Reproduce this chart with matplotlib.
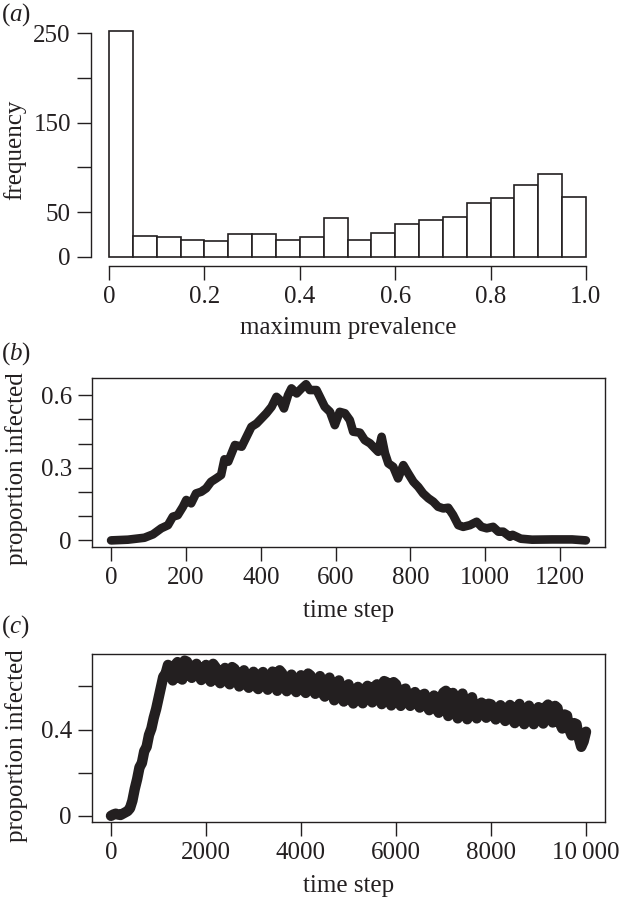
import numpy as np
import matplotlib
matplotlib.use("Agg")
import matplotlib.pyplot as plt

plt.rcParams['font.family'] = ['Liberation Serif', 'DejaVu Serif']
plt.rcParams['mathtext.fontset'] = 'custom'
plt.rcParams['mathtext.rm'] = 'Liberation Serif'
plt.rcParams['mathtext.it'] = 'Liberation Serif:italic'

ink = '#231f20'

# (a) histogram of maximum prevalence (bins of width 0.05)
bin_left = [0.00, 0.05, 0.10, 0.15, 0.20, 0.25, 0.30, 0.35, 0.40, 0.45,
            0.50, 0.55, 0.60, 0.65, 0.70, 0.75, 0.80, 0.85, 0.90, 0.95]
counts = [253, 23, 22, 19, 17, 25, 25, 19, 22, 43,
          19, 27, 37, 41, 44, 60, 66, 80, 92, 67]

# (b) one epidemic that dies out
step_b = [0, 45, 89, 112, 134, 152, 165, 178, 192, 201, 214, 227, 241, 254, 267,
          281, 294, 303, 313, 331, 349, 362, 375, 389, 402, 415, 429, 442, 451,
          462, 473, 482, 496, 509, 521, 531, 549, 558, 571, 585, 598, 611, 625,
          638, 647, 665, 678, 692, 705, 714, 723, 732, 741, 754, 767, 781, 794,
          808, 821, 834, 848, 861, 874, 888, 901, 914, 928, 941, 959, 977, 990,
          1004, 1021, 1035, 1048, 1066, 1073, 1095, 1125, 1179, 1232, 1269]
infected_b = [0.0, 0.003, 0.011, 0.025, 0.05, 0.063, 0.098, 0.104, 0.139, 0.167,
              0.153, 0.194, 0.201, 0.215, 0.242, 0.256, 0.27, 0.335, 0.325, 0.394,
              0.387, 0.428, 0.469, 0.483, 0.504, 0.525, 0.552, 0.593, 0.58, 0.545,
              0.60, 0.628, 0.607, 0.628, 0.645, 0.621, 0.621, 0.593, 0.552, 0.531,
              0.476, 0.531, 0.525, 0.497, 0.449, 0.445, 0.414, 0.401, 0.38, 0.366,
              0.428, 0.36, 0.318, 0.304, 0.256, 0.311, 0.277, 0.242, 0.221, 0.194,
              0.174, 0.16, 0.139, 0.132, 0.135, 0.105, 0.063, 0.056, 0.063, 0.077,
              0.056, 0.05, 0.056, 0.036, 0.036, 0.015, 0.023, 0.007, 0.003, 0.004,
              0.004, 0.0]

# (c) endemic run, read every 50 time steps
step_c = list(range(0, 10001, 50))
infected_c = [
    0.0, 0.006, 0.01, 0.006, 0.004, 0.01, 0.016, 0.022, 0.035, 0.07,
    0.125, 0.17, 0.225, 0.245, 0.30, 0.32, 0.375, 0.405, 0.455, 0.495,
    0.545, 0.595, 0.645, 0.66, 0.70, 0.66, 0.628, 0.70, 0.713, 0.64,
    0.632, 0.72, 0.715, 0.66, 0.64, 0.695, 0.705, 0.65, 0.63, 0.675,
    0.70, 0.64, 0.622, 0.705, 0.69, 0.63, 0.615, 0.67, 0.686, 0.625,
    0.61, 0.69, 0.682, 0.64, 0.60, 0.66, 0.675, 0.61, 0.594, 0.65,
    0.668, 0.60, 0.588, 0.655, 0.667, 0.62, 0.585, 0.64, 0.669, 0.63,
    0.58, 0.675, 0.662, 0.60, 0.578, 0.64, 0.655, 0.59, 0.574, 0.63,
    0.652, 0.585, 0.57, 0.66, 0.651, 0.60, 0.566, 0.62, 0.648, 0.57,
    0.553, 0.63, 0.641, 0.58, 0.536, 0.60, 0.628, 0.55, 0.53, 0.60,
    0.61, 0.545, 0.521, 0.585, 0.598, 0.54, 0.522, 0.59, 0.603, 0.55,
    0.526, 0.60, 0.61, 0.55, 0.518, 0.625, 0.62, 0.54, 0.512, 0.62,
    0.61, 0.55, 0.51, 0.585, 0.59, 0.53, 0.51, 0.565, 0.574, 0.52,
    0.502, 0.56, 0.566, 0.51, 0.49, 0.545, 0.558, 0.50, 0.478, 0.55,
    0.572, 0.58, 0.463, 0.53, 0.57, 0.50, 0.452, 0.545, 0.567, 0.49,
    0.448, 0.53, 0.55, 0.48, 0.452, 0.51, 0.525, 0.47, 0.455, 0.52,
    0.517, 0.465, 0.447, 0.50, 0.513, 0.46, 0.44, 0.50, 0.514, 0.45,
    0.43, 0.495, 0.519, 0.46, 0.425, 0.49, 0.511, 0.45, 0.425, 0.48,
    0.504, 0.45, 0.428, 0.505, 0.516, 0.46, 0.433, 0.51, 0.50, 0.43,
    0.405, 0.47, 0.465, 0.40, 0.373, 0.43, 0.425, 0.36, 0.32, 0.345,
    0.39]

W, H = 619, 898
fig = plt.figure(figsize=(W / 100, H / 100), dpi=100)
fs = 18

def box(left, top, right, bottom):
    return [left / W, 1 - bottom / H, (right - left) / W, (bottom - top) / H]

def style(ax):
    ax.tick_params(direction='out', length=10, width=1, labelsize=fs, pad=4.5,
                   color=ink, labelcolor=ink)
    for s in ax.spines.values():
        s.set_color(ink)
        s.set_linewidth(1)

# panel a
ax1 = fig.add_axes(box(91, 21.7, 605, 265.7))
ax1.bar(bin_left, counts, width=0.05, align='edge', color='white',
        edgecolor=ink, linewidth=1.2)
ax1.set_xlim(-0.038, 1.04)
ax1.set_ylim(-10.1, 263)
ax1.spines['top'].set_visible(False)
ax1.spines['right'].set_visible(False)
ax1.spines['left'].set_bounds(0, 250)
ax1.spines['bottom'].set_bounds(0, 1)
ax1.set_xticks([0, 0.2, 0.4, 0.6, 0.8, 1.0])
ax1.set_xticklabels(['0', '0.2', '0.4', '0.6', '0.8', '1.0'])
ax1.set_yticks([0, 50, 100, 150, 200, 250])
ax1.set_yticklabels(['0', '50', '', '150', '', '250'])
style(ax1)

# panel b
ax2 = fig.add_axes(box(92, 377.7, 605, 546.7))
ax2.plot(step_b, infected_b, color=ink, lw=6.2, solid_joinstyle='round',
         solid_capstyle='round')
ax2.set_xlim(-51, 1320)
ax2.set_ylim(-0.026, 0.672)
ax2.set_xticks([0, 200, 400, 600, 800, 1000, 1200])
ax2.set_xticklabels(['0', '200', '400', '600', '800', '1000', '1200'])
ax2.set_yticks([0, 0.1, 0.2, 0.3, 0.4, 0.5, 0.6])
ax2.set_yticklabels(['0', '', '', '0.3', '', '', '0.6'])
style(ax2)

# panel c
ax3 = fig.add_axes(box(92, 653.7, 605, 822.3))
ax3.plot(step_c, infected_c, color=ink, lw=7.5, solid_joinstyle='round',
         solid_capstyle='round')
ax3.set_xlim(-400, 10400)
ax3.set_ylim(-0.030, 0.752)
ax3.set_xticks([0, 2000, 4000, 6000, 8000, 10000])
ax3.set_xticklabels(['0', '2000', '4000', '6000', '8000', '10\u2009000'])
ax3.set_yticks([0, 0.2, 0.4, 0.6])
ax3.set_yticklabels(['0', '', '0.4', ''])
style(ax3)

# panel letters and axis titles
for lab, y in [('a', 15), ('b', 354), ('c', 627)]:
    fig.text(1 / W, 1 - y / H, '($' + lab + '$)', fontsize=fs, color=ink,
             ha='left', va='center')

fig.text(15 / W, 1 - 150 / H, 'frequency', rotation=90, fontsize=fs,
         color=ink, ha='center', va='center')
fig.text(17 / W, 1 - 469 / H, 'proportion infected', rotation=90, fontsize=fs,
         color=ink, ha='center', va='center')
fig.text(17 / W, 1 - 746 / H, 'proportion infected', rotation=90, fontsize=fs,
         color=ink, ha='center', va='center')

cx = (92 + 605) / 2 / W
fig.text(cx, 1 - 328 / H, 'maximum prevalence', fontsize=fs, color=ink,
         ha='center', va='center')
fig.text(cx, 1 - 611 / H, 'time step', fontsize=fs, color=ink,
         ha='center', va='center')
fig.text(cx, 1 - 886 / H, 'time step', fontsize=fs, color=ink,
         ha='center', va='center')

fig.savefig('out.png', dpi=100)
